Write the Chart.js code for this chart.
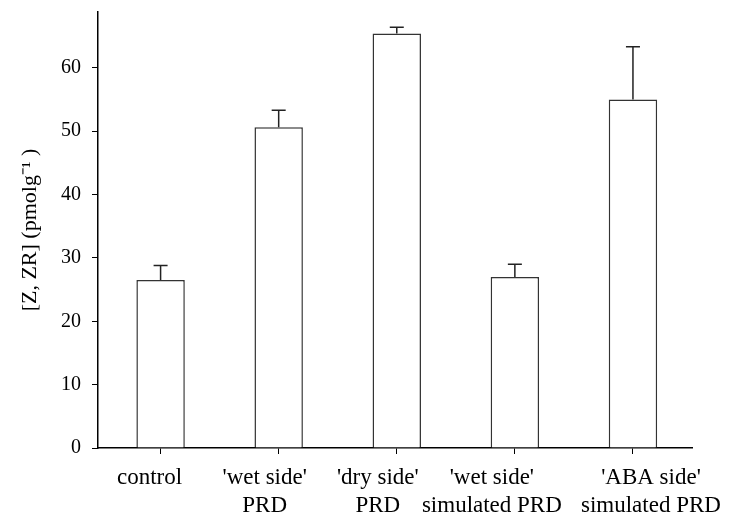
<!DOCTYPE html>
<html>
<head>
<meta charset="utf-8">
<script src="https://cdn.jsdelivr.net/npm/chart.js@4/dist/chart.umd.min.js"></script>
<style>
  html, body { margin: 0; padding: 0; background: #fff; }
  #wrap { width: 755px; height: 518px; }
</style>
</head>
<body>
<div id="wrap"><canvas id="cytoChart"></canvas></div>
<script>
const categories = [
  ["control"],
  ["'wet side'", "PRD"],
  ["'dry side'", "PRD"],
  ["'wet side'", "simulated PRD"],
  ["'ABA side'", "simulated PRD"],
];
const means = [26.5, 50.6, 65.4, 27.0, 55.0];
const errors = [2.3, 2.7, 1.0, 2.0, 8.3];
const yTicks = [0, 10, 20, 30, 40, 50, 60];

const FONT = "'Liberation Serif', 'Times New Roman', serif";
// labels in the original sit a bit off their ticks
const labelShift = [-11, -14, -19, -23, 18];

// upper error bars from the bar tops
const errorBars = {
  id: "errorBars",
  afterDatasetsDraw(chart) {
    const ctx = chart.ctx;
    const yScale = chart.scales.y;
    const meta = chart.getDatasetMeta(0);
    ctx.save();
    ctx.strokeStyle = "#222";
    ctx.lineWidth = 1.5;
    meta.data.forEach((bar, i) => {
      const top = yScale.getPixelForValue(means[i] + errors[i]);
      ctx.beginPath();
      ctx.moveTo(bar.x, bar.y);
      ctx.lineTo(bar.x, top);
      ctx.moveTo(bar.x - 7, top);
      ctx.lineTo(bar.x + 7, top);
      ctx.stroke();
    });
    ctx.restore();
  },
};

// category labels, two lines each
const categoryLabels = {
  id: "categoryLabels",
  afterDraw(chart) {
    const ctx = chart.ctx;
    const xScale = chart.scales.x;
    ctx.save();
    ctx.fillStyle = "#000";
    ctx.font = "23px " + FONT;
    ctx.textAlign = "center";
    ctx.textBaseline = "alphabetic";
    categories.forEach((lines, i) => {
      const x = xScale.getPixelForValue(i) + labelShift[i];
      lines.forEach((line, j) => {
        ctx.fillText(line, x, xScale.top + 36 + j * 28);
      });
    });
    ctx.restore();
  },
};

new Chart(document.getElementById("cytoChart"), {
  type: "bar",
  data: {
    datasets: [
      {
        data: means.map((v, i) => ({ x: i, y: v })),
        backgroundColor: "#ffffff",
        borderColor: "#333",
        borderWidth: 1.5,
        categoryPercentage: 1,
        barPercentage: 0.41,
      },
    ],
  },
  options: {
    responsive: true,
    maintainAspectRatio: false,
    animation: false,
    layout: { padding: { left: 0, right: 63, top: 12, bottom: 0 } },
    plugins: {
      legend: { display: false },
      tooltip: { enabled: false },
    },
    scales: {
      x: {
        type: "linear",
        offset: false,
        min: -0.53,
        max: 4.5,
        afterBuildTicks(scale) {
          scale.ticks = categories.map((c, i) => ({ value: i }));
        },
        grid: {
          offset: false,
          drawOnChartArea: false,
          drawTicks: true,
          tickLength: 6,
          color: "#000",
        },
        border: { color: "#000", width: 1.5 },
        ticks: {
          color: "rgba(0,0,0,0)",
          font: { family: FONT, size: 12 },
          maxRotation: 0,
          autoSkip: false,
        },
        afterFit(scale) {
          scale.height = 70;
          scale.paddingLeft = 0;
          scale.paddingRight = 0;
        },
      },
      y: {
        min: 0,
        max: 68.8,
        afterBuildTicks(scale) {
          scale.ticks = yTicks.map((v) => ({ value: v }));
        },
        grid: {
          drawOnChartArea: false,
          drawTicks: true,
          tickLength: 6,
          color: "#000",
        },
        border: { color: "#000", width: 1.5 },
        ticks: {
          color: "#000",
          font: { family: FONT, size: 20 },
          padding: 11,
        },
        title: {
          display: true,
          text: "[Z, ZR] (pmolg\u207B\u00B9 )",
          color: "#000",
          font: { family: FONT, size: 22 },
          padding: { top: 17, bottom: 0 },
        },
        afterFit(scale) {
          scale.width = 98;
          scale.paddingTop = 0;
          scale.paddingBottom = 0;
        },
      },
    },
  },
  plugins: [errorBars, categoryLabels],
});
</script>
</body>
</html>
